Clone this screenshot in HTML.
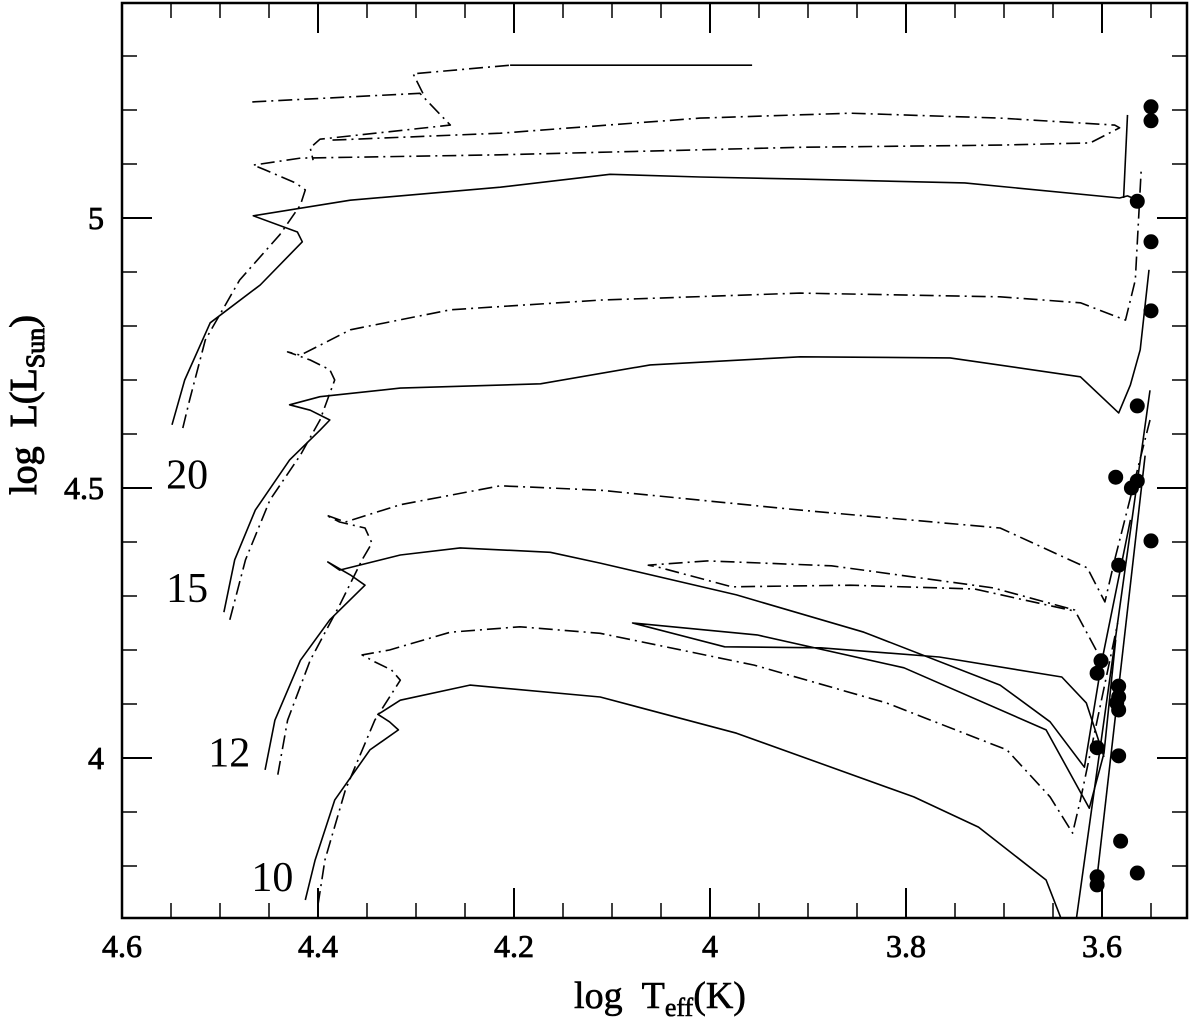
<!DOCTYPE html>
<html><head><meta charset="utf-8"><style>
html,body{margin:0;padding:0;background:#fff;}
svg{display:block;font-family:"Liberation Serif",serif;}
</style></head><body>
<svg id="chart" width="1200" height="1018" viewBox="0 0 1200 1018" xmlns="http://www.w3.org/2000/svg"></svg>
<script>
const xTicks=[4.6,4.4,4.2,4,3.8,3.6];
const xTickLabels=["4.6","4.4","4.2","4","3.8","3.6"];
const yTicks=[4,4.5,5];
const yTickLabels=["4","4.5","5"];
const solid20=[[4.549,4.617],[4.536,4.700],[4.510,4.806],[4.459,4.876],[4.416,4.956],[4.421,4.974],[4.466,5.004],[4.367,5.033],[4.214,5.057],[4.102,5.081],[4.010,5.076],[3.908,5.072],[3.740,5.065],[3.582,5.037],[3.574,5.041],[3.566,5.035]];
const solid20b=[[3.578,5.037],[3.574,5.191]];
const dash20=[[4.538,4.611],[4.531,4.663],[4.515,4.774],[4.480,4.885],[4.439,4.969],[4.418,5.024],[4.413,5.052],[4.423,5.065],[4.454,5.089],[4.466,5.098],[4.418,5.111],[4.214,5.117],[3.908,5.131],[3.704,5.135],[3.612,5.139],[3.582,5.167],[3.587,5.172],[3.704,5.185],[3.857,5.194],[4.010,5.185],[4.214,5.157],[4.388,5.144]];
const dash25=[[4.467,5.215],[4.296,5.231],[4.265,5.172],[4.398,5.146],[4.408,5.130],[4.405,5.107]];
const dash25b=[[4.293,5.231],[4.303,5.267],[4.204,5.283]];
const solid25=[[4.204,5.283],[3.957,5.283]];
const dash15=[[4.490,4.256],[4.474,4.367],[4.449,4.478],[4.418,4.561],[4.398,4.626],[4.383,4.700],[4.388,4.719],[4.408,4.737],[4.431,4.752],[4.418,4.746],[4.367,4.793],[4.265,4.830],[4.112,4.848],[3.908,4.861],[3.704,4.854],[3.622,4.843],[3.576,4.811],[3.566,4.885],[3.560,5.089]];
const solid15=[[4.496,4.270],[4.485,4.367],[4.464,4.459],[4.429,4.552],[4.398,4.607],[4.388,4.626],[4.408,4.644],[4.429,4.654],[4.398,4.669],[4.316,4.685],[4.173,4.693],[4.061,4.728],[3.908,4.743],[3.755,4.741],[3.622,4.706],[3.583,4.639],[3.571,4.691],[3.561,4.756],[3.552,4.904]];
const solid12=[[4.454,3.978],[4.444,4.070],[4.418,4.181],[4.388,4.256],[4.352,4.320],[4.367,4.339],[4.390,4.363],[4.378,4.348],[4.316,4.376],[4.255,4.389],[4.163,4.381],[4.112,4.361],[3.973,4.302],[3.843,4.233],[3.704,4.135],[3.653,4.067],[3.618,3.983],[3.600,4.181],[3.571,4.441]];
const dash12=[[4.441,3.969],[4.431,4.070],[4.408,4.181],[4.378,4.283],[4.355,4.367],[4.345,4.398],[4.352,4.426],[4.378,4.437],[4.392,4.450],[4.372,4.437],[4.316,4.469],[4.214,4.504],[4.112,4.496],[3.908,4.459],[3.704,4.426],[3.615,4.352],[3.597,4.289],[3.587,4.367],[3.551,4.626]];
const solid10=[[4.413,3.737],[4.403,3.811],[4.383,3.922],[4.347,4.015],[4.318,4.052],[4.327,4.067],[4.339,4.081],[4.335,4.085],[4.316,4.107],[4.245,4.135],[4.112,4.113],[3.973,4.046],[3.792,3.928],[3.726,3.872],[3.657,3.774],[3.642,3.704]];
const dash10=[[4.400,3.728],[4.393,3.811],[4.372,3.941],[4.342,4.070],[4.316,4.144],[4.325,4.163],[4.342,4.178],[4.355,4.191],[4.327,4.200],[4.265,4.233],[4.194,4.243],[4.112,4.231],[3.955,4.172],[3.820,4.102],[3.697,4.015],[3.653,3.928],[3.630,3.861],[3.622,3.922],[3.584,4.250]];
const loopDash=[[3.606,4.200],[3.628,4.274],[3.711,4.315],[3.876,4.356],[4.003,4.365],[4.063,4.357],[4.054,4.354],[3.978,4.317],[3.857,4.320],[3.730,4.313],[3.628,4.272]];
const loopSolid=[[3.586,4.219],[3.598,4.009],[3.613,3.907],[3.657,4.052],[3.802,4.167],[3.952,4.228],[4.079,4.250],[3.985,4.206],[3.887,4.204],[3.766,4.187],[3.641,4.150],[3.616,4.102],[3.598,4.002]];
const rgb1=[[3.626,3.704],[3.551,4.681]];
const rgb2=[[3.605,3.78],[3.556,4.560]];
const starT=[3.550,3.550,3.564,3.550,3.550,3.564,3.586,3.570,3.564,3.550,3.583,3.601,3.605,3.583,3.583,3.585,3.583,3.605,3.583,3.581,3.564,3.605,3.605];
const starL=[5.206,5.180,5.031,4.956,4.828,4.652,4.520,4.500,4.513,4.402,4.357,4.180,4.157,4.133,4.113,4.102,4.089,4.019,4.004,3.846,3.787,3.780,3.765];
const massLabels=["20","15","12","10"];
const massLabelT=[4.555,4.555,4.512,4.468];
const massLabelL=[4.525,4.315,4.010,3.780];

const L=122,R=1187,T=3,B=918;
const X=v=>122+(4.6-v)*980;
const Y=v=>218+(5-v)*540;
const NS="http://www.w3.org/2000/svg";
const svg=document.getElementById('chart');
function mk(tag,attrs){const e=document.createElementNS(NS,tag);for(const k in attrs)e.setAttribute(k,attrs[k]);svg.appendChild(e);return e;}

const frame=mk('rect',{x:L,y:T,width:R-L,height:B-T,fill:'none',stroke:'#000','stroke-width':2.5});



for(let v=4.6;v>=3.52;v-=0.05){
  const vv=Math.round(v*100)/100;const major=Math.abs(vv*5-Math.round(vv*5))<1e-6;const len=major?30:15;const x=X(vv);
  const t1=mk('line',{x1:x,y1:B,x2:x,y2:B-len,stroke:'#000','stroke-width':major?2:1.5});
  
  
  const t2=mk('line',{x1:x,y1:T,x2:x,y2:T+len,stroke:'#000','stroke-width':major?2:1.5});
  
  
}
for(let v=3.8;v<=5.35;v+=0.1){
  const vv=Math.round(v*10)/10;const major=Math.abs(vv*2-Math.round(vv*2))<1e-6;const len=major?30:15;const y=Y(vv);
  const t1=mk('line',{x1:L,y1:y,x2:L+len,y2:y,stroke:'#000','stroke-width':major?2:1.5});
  
  
  const t2=mk('line',{x1:R,y1:y,x2:R-len,y2:y,stroke:'#000','stroke-width':major?2:1.5});
  
  
}
xTicks.forEach((v,i)=>{
  const t=mk('text',{x:X(v),y:957,'text-anchor':'middle','font-size':32,stroke:'#000','stroke-width':0.8});
  t.textContent=xTickLabels[i];
  
  
});
yTicks.forEach((v,i)=>{
  const t=mk('text',{x:104,y:Y(v)+11,'text-anchor':'end','font-size':32,stroke:'#000','stroke-width':0.8});
  t.textContent=yTickLabels[i];
  
  
});
const xt=mk('text',{x:660,y:1008,'text-anchor':'middle','font-size':38,stroke:'#000','stroke-width':0.6});
xt.innerHTML='log&#160;&#160;T<tspan font-size="26" dy="8">eff</tspan><tspan dy="-8">(K)</tspan>';


const yt=mk('text',{x:0,y:0,'text-anchor':'middle','font-size':38,stroke:'#000','stroke-width':1,transform:'translate(36,405) rotate(-90)'});
yt.innerHTML='log&#160;&#160;L(L<tspan font-size="26" dy="8">Sun</tspan><tspan dy="-8">)</tspan>';



function track(pts,dashed,name){
  const d=pts.map((p,i)=>(i?'L':'M')+X(p[0]).toFixed(1)+' '+Y(p[1]).toFixed(1)).join(' ');
  const a={d:d,fill:'none',stroke:'#000','stroke-width':1.6,'stroke-linejoin':'round'};
  if(dashed)a['stroke-dasharray']='14 5 2 5';
  const p=mk('path',a);
  
  
}
track(solid20,false,'track-20-solid');track(solid20b,false,'track-20-solid-tail');
track(dash20,true,'track-20-dashdot');
track(dash25,true,'track-25-dashdot');track(dash25b,true,'track-25-dashdot-top');track(solid25,false,'track-25-solid');
track(dash15,true,'track-15-dashdot');track(solid15,false,'track-15-solid');
track(solid12,false,'track-12-solid');track(dash12,true,'track-12-dashdot');
track(solid10,false,'track-10-solid');track(dash10,true,'track-10-dashdot');
track(loopDash,true,'blue-loop-dashdot');track(loopSolid,false,'blue-loop-solid');
track(rgb1,false,'red-giant-branch');track(rgb2,false,'red-giant-branch-2');

starT.forEach((t,i)=>{
  const c=mk('circle',{cx:X(t),cy:Y(starL[i]),r:7.5,fill:'#000'});
  
  
});
massLabels.forEach((m,i)=>{
  const t=mk('text',{x:X(massLabelT[i]),y:Y(massLabelL[i])+14,'font-size':42});
  t.textContent=m;
  
  
});
</script>
</body></html>
